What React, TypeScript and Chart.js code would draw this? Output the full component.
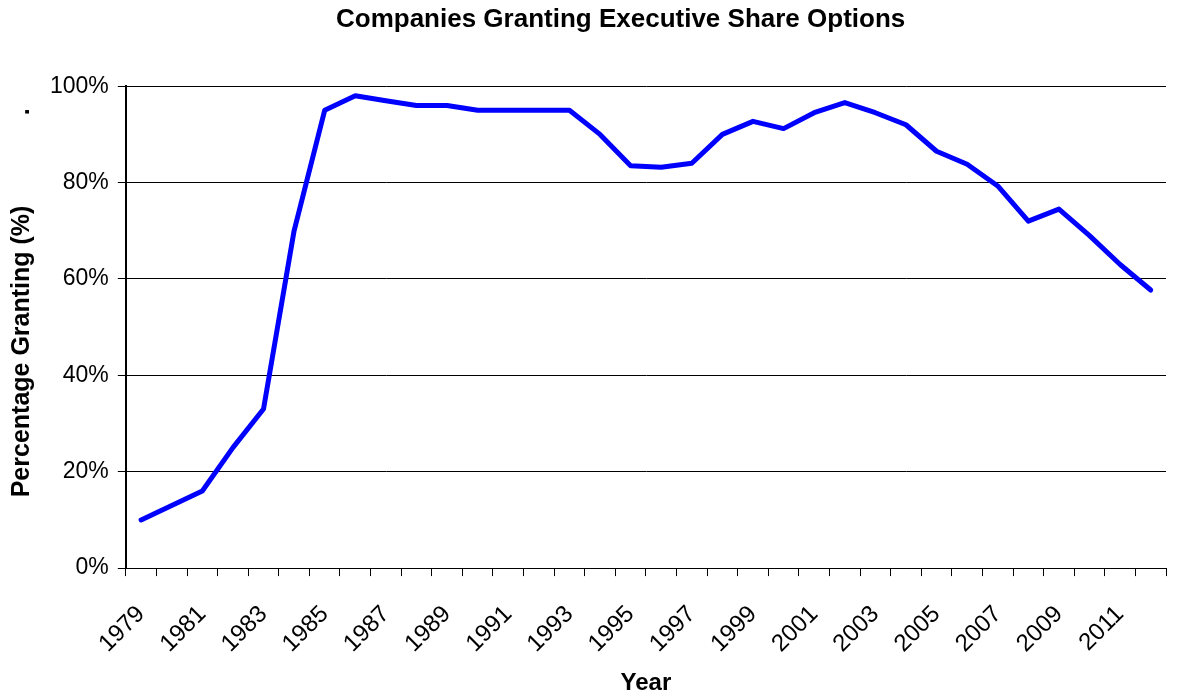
import { useEffect, useRef } from 'react';
import { Chart, registerables } from 'chart.js';

Chart.register(...registerables);

const years: string[] = [
  '1979', '1980', '1981', '1982', '1983', '1984', '1985', '1986', '1987', '1988',
  '1989', '1990', '1991', '1992', '1993', '1994', '1995', '1996', '1997', '1998',
  '1999', '2000', '2001', '2002', '2003', '2004', '2005', '2006', '2007', '2008',
  '2009', '2010', '2011', '2012',
];

const percentGranting: number[] = [
  10, 13, 16, 25, 33, 70, 95, 98, 97, 96,
  96, 95, 95, 95, 95, 90, 83.5, 83.2, 84, 90,
  92.7, 91.2, 94.5, 96.6, 94.5, 92, 86.5, 83.8, 79.3, 72,
  74.5, 69, 63, 57.7,
];

const titleText = '          Companies Granting Executive Share Options';
const yTitleText = '       Percentage Granting (%)             .';
const xTitleText = 'Year';

const FONT = "'Liberation Sans', Arial, Helvetica, sans-serif";

export default function App() {
  const canvasRef = useRef<HTMLCanvasElement | null>(null);

  useEffect(() => {
    if (!canvasRef.current) return;
    const chart = new Chart(canvasRef.current, {
      type: 'line',
      data: {
        labels: years,
        datasets: [
          {
            label: 'Percentage Granting',
            data: percentGranting,
            borderColor: '#0000FF',
            backgroundColor: '#0000FF',
            borderWidth: 5,
            pointRadius: 0,
            tension: 0,
            borderCapStyle: 'round',
            borderJoinStyle: 'round',
          },
        ],
      },
      options: {
        animation: false,
        responsive: true,
        maintainAspectRatio: false,
        layout: { padding: { left: 3, right: 13, top: 0, bottom: 0 } },
        plugins: {
          legend: { display: false },
          tooltip: { enabled: false },
          title: {
            display: true,
            text: titleText,
            color: '#000',
            font: { family: FONT, size: 26, weight: 'bold' },
            padding: { top: 4, bottom: 51 },
          },
        },
        scales: {
          x: {
            type: 'category',
            offset: true,
            afterFit: (scale: any) => {
              scale.paddingRight = 0;
              scale.paddingLeft = 0;
            },
            grid: {
              display: true,
              drawOnChartArea: false,
              drawTicks: true,
              tickLength: 8,
              offset: true,
              color: '#000',
            },
            border: { display: true, color: '#000', width: 1 },
            ticks: {
              autoSkip: false,
              minRotation: 45,
              maxRotation: 45,
              padding: 24,
              color: '#000',
              font: { family: FONT, size: 24 },
              callback: (_v: any, i: number) => (i % 2 === 0 ? years[i] : ''),
            },
            title: {
              display: true,
              text: xTitleText,
              color: '#000',
              font: { family: FONT, size: 24, weight: 'bold' },
              padding: { top: -13, bottom: 1 },
            },
          },
          y: {
            min: 0,
            max: 100,
            grid: {
              color: '#000',
              lineWidth: 1,
              drawTicks: true,
              tickLength: 8,
            },
            border: { display: true, color: '#000', width: 2 },
            ticks: {
              stepSize: 20,
              padding: 9,
              color: '#000',
              font: { family: FONT, size: 23 },
              callback: (v: any) => `${v}%`,
            },
            title: {
              display: true,
              text: yTitleText,
              color: '#000',
              font: { family: FONT, size: 25, weight: 'bold' },
              padding: { top: 4, bottom: 4 },
            },
          },
        },
      },
    });
    return () => chart.destroy();
  }, []);

  return (
    <div style={{ position: 'absolute', left: 0, top: 0, width: 1179, height: 699, background: '#fff' }}>
      <canvas ref={canvasRef} />
    </div>
  );
}
